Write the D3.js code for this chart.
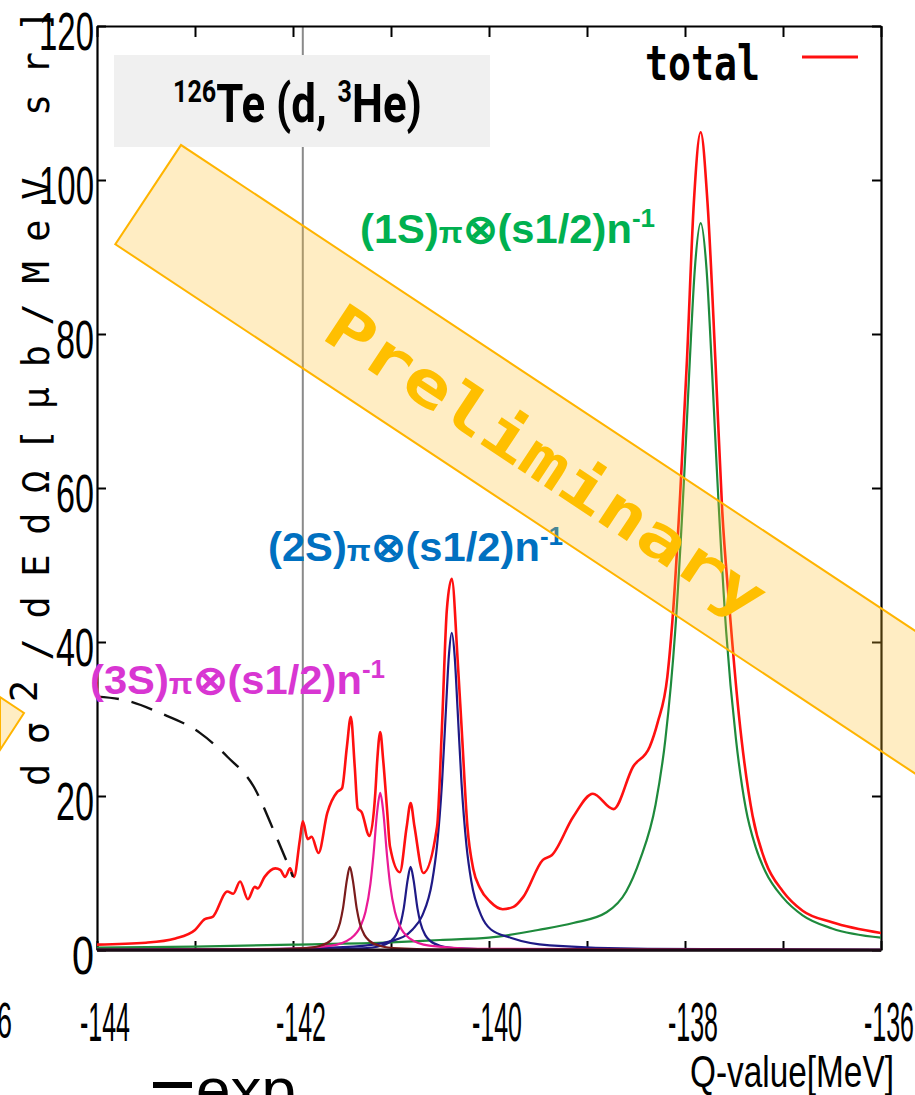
<!DOCTYPE html>
<html>
<head>
<meta charset="utf-8">
<script src="https://cdn.jsdelivr.net/npm/d3@7"></script>
<style>
  body { margin: 0; background: #fff; }
  svg { display: block; }
</style>
</head>
<body>
<div id="chart"></div>
<script>
// Q-value [MeV] / cross section [ub/MeV sr].
var totalQ = [-144.0, -143.5, -143.2, -143.0, -142.9, -142.82, -142.67, -142.61, -142.54, -142.46, -142.39, -142.36,
  -142.29, -142.18, -142.13, -142.08, -142.03, -141.99, -141.93, -141.9, -141.85, -141.81, -141.74, -141.65, -141.55,
  -141.5, -141.45, -141.41, -141.37, -141.34, -141.3, -141.22, -141.16, -141.14, -141.11, -141.08, -141.04, -141.01,
  -140.91, -140.84, -140.8, -140.76, -140.67, -140.53, -140.48, -140.43, -140.38, -140.32, -140.28, -140.22, -140.16,
  -140.09, -139.99, -139.86, -139.75, -139.65, -139.45, -139.36, -139.14, -138.94, -138.73, -138.53, -138.36, -138.28,
  -138.18, -138.12, -138.05, -137.98, -137.91, -137.84, -137.77, -137.69, -137.62, -137.55, -137.45, -137.31, -137.18,
  -137.0, -136.8, -136.5, -136.0];
var totalV = [0.7, 0.95, 1.5, 2.6, 4.0, 4.3, 7.6, 7.3, 8.9, 6.6, 8.2, 8.0,
  9.5, 10.6, 10.4, 9.5, 10.6, 9.5, 14.3, 16.7, 14.4, 14.7, 12.6, 17.8, 20.5,
  21.0, 26.4, 30.3, 23.8, 18.4, 17.9, 14.8, 20.4, 24.7, 28.3, 24.7, 18.2, 13.4,
  10.1, 16.0, 19.1, 16.0, 10.0, 16.0, 29.0, 44.2, 48.2, 37.7, 29.0, 16.0, 10.5,
  8.0, 6.3, 5.3, 5.6, 6.9, 11.7, 12.3, 17.3, 20.3, 18.3, 23.8, 26.4, 29.5,
  35.5, 44.2, 59.0, 76.6, 97.0, 106.2, 97.0, 76.6, 57.0, 45.0, 30.5, 17.4, 11.5,
  7.6, 5.1, 3.6, 2.2];

var s1Q = [-144, -143, -142, -141, -140.5, -140, -139.5, -139.14, -138.8, -138.6, -138.46, -138.3, -138.2, -138.1,
  -138.0, -137.95, -137.9, -137.84, -137.78, -137.73, -137.68, -137.58, -137.48, -137.38, -137.28, -137.18, -137.0,
  -136.8, -136.5, -136.0];
var s1V = [0.3, 0.45, 0.7, 1.0, 1.3, 1.6, 2.6, 3.5, 4.9, 7.6, 11.7, 18.9, 27.4, 41.4,
  63.6, 76.8, 88.4, 94.4, 88.4, 76.8, 63.6, 41.4, 27.4, 18.4, 13.4, 10.2, 6.8,
  4.5, 2.8, 1.6];

var s2Q = [-144, -142.38, -141.38, -140.98, -140.78, -140.68, -140.58, -140.53, -140.48, -140.44, -140.41, -140.38,
  -140.35, -140.32, -140.28, -140.23, -140.18, -140.08, -139.98, -139.78, -139.38, -138.38, -136];
var s2V = [0.03, 0.11, 0.45, 1.22, 2.66, 4.5, 8.9, 13.6, 21.6, 31.1, 38.1, 41.2,
  38.1, 31.1, 21.6, 13.6, 8.9, 4.5, 2.66, 1.6, 0.6, 0.15, 0.03];

var s2bQ = [-144, -141.8, -141.3, -141.1, -141.0, -140.95, -140.9, -140.87, -140.83, -140.8, -140.77, -140.73,
  -140.7, -140.65, -140.6, -140.5, -140.3, -139.8, -136];
var s2bV = [0.01, 0.05, 0.21, 0.56, 1.18, 1.93, 3.55, 5.4, 9.1, 10.8, 9.1, 5.4,
  3.55, 1.93, 1.18, 0.56, 0.21, 0.05, 0.0];

var s3Q = [-144, -142.11, -141.61, -141.41, -141.31, -141.26, -141.21, -141.18, -141.14, -141.11, -141.08, -141.04,
  -141.01, -140.96, -140.91, -140.81, -140.61, -140.11, -136];
var s3V = [0.02, 0.15, 0.57, 1.52, 3.12, 4.96, 8.6, 12.2, 18.1, 20.4, 18.1, 12.2,
  8.6, 4.96, 3.12, 1.52, 0.57, 0.15, 0.01];

var s3bQ = [-144, -142.42, -141.92, -141.72, -141.62, -141.57, -141.52, -141.49, -141.45, -141.42, -141.39, -141.35,
  -141.32, -141.27, -141.22, -141.12, -140.92, -140.42, -136];
var s3bV = [0.01, 0.05, 0.21, 0.56, 1.18, 1.93, 3.55, 5.4, 9.1, 10.8, 9.1, 5.4,
  3.55, 1.93, 1.18, 0.56, 0.21, 0.05, 0.0];

var expQ = [-144.0, -143.7, -143.36, -142.95, -142.67, -142.4, -142.2, -142.0];
var expV = [32.9, 32.4, 30.8, 28.2, 25.1, 21.2, 15.6, 9.5];

var xTicks = [-144, -143, -142, -141, -140, -139, -138, -137, -136];
var xLabels = [-144, -142, -140, -138, -136];
var yTicks = [0, 20, 40, 60, 80, 100, 120];
var thresholdQ = -141.9;

var width = 915, height = 1095;
var margin = { top: 26, right: 34, bottom: 145, left: 97 };

var svg = d3.select('#chart').append('svg')
  .attr('width', width)
  .attr('height', height);

var x = d3.scaleLinear().domain([-144, -136]).range([margin.left, width - margin.right]);
var y = d3.scaleLinear().domain([0, 120]).range([height - margin.bottom, margin.top]);

// Squeeze/stretch a text so its left edge sits at x0 and it is w pixels wide.
function fitText(t, x0, y0, w) {
  t.attr('x', 0).attr('y', 0);
  var bw = t.node().getBBox().width;
  t.attr('transform', 'translate(' + x0 + ',' + y0 + ') scale(' + (w / bw) + ',1)');
}

var defs = svg.append('defs');
defs.append('clipPath').attr('id', 'plot-clip')
  .append('rect')
  .attr('x', x(-144)).attr('y', y(120))
  .attr('width', x(-136) - x(-144)).attr('height', y(0) - y(120));

// Threshold line.
svg.append('line')
  .attr('x1', x(thresholdQ)).attr('x2', x(thresholdQ))
  .attr('y1', y(120)).attr('y2', y(0))
  .attr('stroke', '#8a8a8a')
  .attr('stroke-width', 2);

// Axes, ticks pointing inward.
var xAxisBottom = d3.axisBottom(x).tickValues(xTicks).tickSizeInner(-9).tickSizeOuter(0).tickFormat('');
var xAxisTop = d3.axisTop(x).tickValues(xTicks).tickSizeInner(-11).tickSizeOuter(0).tickFormat('');
var yAxisLeft = d3.axisLeft(y).tickValues(yTicks).tickSizeInner(-9).tickSizeOuter(0).tickFormat('');
var yAxisRight = d3.axisRight(y).tickValues(yTicks).tickSizeInner(-9).tickSizeOuter(0).tickFormat('');

var axes = svg.append('g').attr('class', 'axes');
axes.append('g').attr('transform', 'translate(0,' + y(0) + ')').call(xAxisBottom);
axes.append('g').attr('transform', 'translate(0,' + y(120) + ')').call(xAxisTop);
axes.append('g').attr('transform', 'translate(' + x(-144) + ',0)').call(yAxisLeft);
axes.append('g').attr('transform', 'translate(' + x(-136) + ',0)').call(yAxisRight);
axes.selectAll('.domain').attr('stroke', '#000').attr('stroke-width', 2.2);
axes.selectAll('.tick line').attr('stroke', '#000').attr('stroke-width', 2);

// Curves.
function series(qs, vs) {
  return qs.map(function(q, i) { return [q, vs[i]]; });
}
var line = d3.line()
  .x(function(d) { return x(d[0]); })
  .y(function(d) { return y(d[1]); })
  .curve(d3.curveMonotoneX);

var plot = svg.append('g').attr('clip-path', 'url(#plot-clip)');
var curves = [
  { data: series(s1Q, s1V), color: '#1e8a3c', w: 2.2 },
  { data: series(s2Q, s2V), color: '#1f1a86', w: 2.2 },
  { data: series(s2bQ, s2bV), color: '#1f1a86', w: 2.2 },
  { data: series(s3Q, s3V), color: '#ea1a96', w: 2.2 },
  { data: series(s3bQ, s3bV), color: '#7a1c1c', w: 2.2 },
  { data: series(totalQ, totalV), color: '#ff1010', w: 2.6 }
];
curves.forEach(function(c) {
  plot.append('path')
    .datum(c.data)
    .attr('fill', 'none')
    .attr('stroke', c.color)
    .attr('stroke-width', c.w)
    .attr('stroke-linejoin', 'round')
    .attr('d', line);
});
plot.append('path')
  .datum(series(expQ, expV))
  .attr('fill', 'none')
  .attr('stroke', '#111')
  .attr('stroke-width', 2.4)
  .attr('stroke-dasharray', '22,13')
  .attr('d', line);

// Redraw bottom axis line over the curves at zero.
svg.append('line')
  .attr('x1', x(-144)).attr('x2', x(-136))
  .attr('y1', y(0)).attr('y2', y(0))
  .attr('stroke', '#1a0a14').attr('stroke-width', 3);

// Tick labels (condensed look).
xLabels.forEach(function(v) {
  var t = svg.append('text')
    .attr('font-family', 'Liberation Sans, Arial, sans-serif')
    .attr('font-size', 56)
    .attr('fill', '#000')
    .text(v);
  fitText(t, Math.min(x(v) + 8, 889) - 25, 1041, 50);
});
var cutLabel = svg.append('text')
  .attr('font-family', 'Liberation Sans, Arial, sans-serif')
  .attr('font-size', 50)
  .text('6');
fitText(cutLabel, -3, 1038, 15);

yTicks.forEach(function(v) {
  var s = String(v);
  var w = s.length === 3 ? 55 : (s.length === 2 ? 38 : 22);
  var t = svg.append('text')
    .attr('font-family', 'Liberation Sans, Arial, sans-serif')
    .attr('font-size', 54)
    .attr('fill', '#000')
    .text(s);
  fitText(t, 94 - w, y(v) + 24, w);
});

// Y axis title.
var yTitle = svg.append('text')
  .attr('transform', 'translate(49,786) rotate(-90)')
  .attr('font-family', 'DejaVu Sans Mono, monospace')
  .attr('font-size', 37)
  .attr('fill', '#000')
  .attr('textLength', 776)
  .attr('lengthAdjust', 'spacing');
yTitle.append('tspan').text('d\u03c3');
yTitle.append('tspan').attr('dy', -12).text('2');
yTitle.append('tspan').attr('dy', 12).text('/dEd\u03a9[\u03bcb/MeV sr]');

// X axis title and the cut-off exp legend.
var xTitle = svg.append('text')
  .attr('font-family', 'Liberation Sans, Arial, sans-serif')
  .attr('font-size', 44)
  .text('Q-value[MeV]');
fitText(xTitle, 690, 1087, 204);

svg.append('line')
  .attr('x1', 153).attr('x2', 192)
  .attr('y1', 1085).attr('y2', 1085)
  .attr('stroke', '#000').attr('stroke-width', 6);
var expText = svg.append('text')
  .attr('font-family', 'Liberation Sans, Arial, sans-serif')
  .attr('font-size', 60)
  .text('exp');
fitText(expText, 196, 1110, 100);

// Reaction label box.
svg.append('rect')
  .attr('x', 114).attr('y', 55)
  .attr('width', 376).attr('height', 92)
  .attr('fill', '#f0f0f0');
var title = svg.append('text')
  .attr('font-family', 'Roboto, Liberation Sans, sans-serif')
  .attr('font-weight', 'bold')
  .attr('font-size', 54)
  .attr('fill', '#000');
title.append('tspan').attr('font-size', 31).attr('dy', -20).text('126');
title.append('tspan').attr('dy', 20).text('Te (d, ');
title.append('tspan').attr('font-size', 31).attr('dy', -20).text('3');
title.append('tspan').attr('dy', 20).text('He)');
fitText(title, 173, 122, 249);

// Component labels.
var compLabels = [
  { name: '(1S)', x0: 360, y0: 243, color: '#00b050' },
  { name: '(2S)', x0: 268, y0: 561, color: '#0070c0' },
  { name: '(3S)', x0: 90, y0: 694, color: '#d836d2' }
];
compLabels.forEach(function(l) {
  var t = svg.append('text')
    .attr('font-family', 'Liberation Sans, Arial, sans-serif')
    .attr('font-weight', 'bold')
    .attr('font-size', 40)
    .attr('fill', l.color);
  t.append('tspan').text(l.name);
  t.append('tspan').attr('font-size', 30).text('\u03c0');
  t.append('tspan').text('\u2297(s1/2)n');
  t.append('tspan').attr('font-size', 25).attr('dy', -16).text('-1');
  fitText(t, l.x0, l.y0, 296);
});

// Legend.
var legendText = svg.append('text')
  .attr('font-family', 'DejaVu Sans Mono, monospace')
  .attr('font-weight', 'bold')
  .attr('font-size', 48)
  .text('total');
fitText(legendText, 645, 80, 115);
svg.append('line')
  .attr('x1', 802).attr('x2', 858)
  .attr('y1', 57).attr('y2', 57)
  .attr('stroke', '#ff1010').attr('stroke-width', 3);

// "Preliminary" stamp on top.
var stampFill = 'rgba(255,190,40,0.28)';
var stamp = svg.append('g').attr('transform', 'translate(181,145) rotate(33.5)');
stamp.append('rect')
  .attr('x', 0).attr('y', 0)
  .attr('width', 1300).attr('height', 119)
  .attr('fill', stampFill)
  .attr('stroke', '#ffb400')
  .attr('stroke-width', 2);
var stampText = stamp.append('text')
  .attr('font-family', 'DejaVu Sans Mono, monospace')
  .attr('font-weight', 'bold')
  .attr('font-size', 62)
  .attr('fill', '#ffbf00')
  .text('Preliminary');
fitText(stampText, 222, 84, 515);

svg.append('polygon')
  .attr('points', '0,697 24,713 0,750')
  .attr('fill', stampFill)
  .attr('stroke', '#ffb400')
  .attr('stroke-width', 2);
</script>
</body>
</html>
